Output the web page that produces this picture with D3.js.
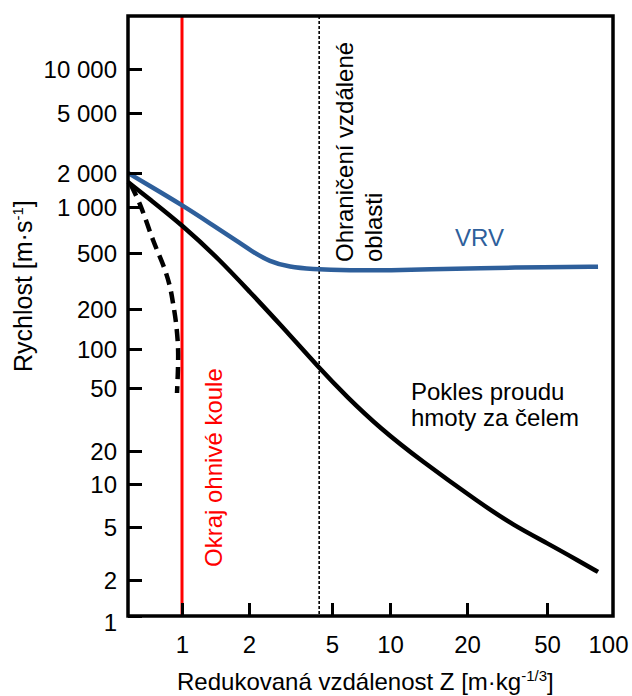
<!DOCTYPE html>
<html>
<head>
<meta charset="utf-8">
<script src="https://cdn.jsdelivr.net/npm/d3@7"></script>
<style>
  html, body { margin: 0; padding: 0; background: #fff; }
  svg { display: block; }
  text { font-family: "Liberation Sans", Arial, sans-serif; }
</style>
</head>
<body>
<svg id="chart" width="632" height="696"></svg>
<script>
// Axis ticks (reduced distance Z and velocity)
const zTicks = [1, 2, 5, 10, 20, 50, 100];
const vTicks = [1, 2, 5, 10, 20, 50, 100, 200, 500, 1000, 2000, 5000, 10000];

// Blast-front velocity (VRV)
const vrvZ = [0.572, 0.718, 1.0, 1.336, 1.822, 2.02, 2.52, 3.15, 3.92, 6.2, 10, 14.3, 22.4, 50, 89.3];
const vrvV = [2000, 1535, 1041, 782, 581, 523, 432, 397, 385, 376, 377, 382, 391, 396, 399];

// Decay of the mass flow behind the front
const flowZ = [0.572, 0.718, 1.0, 1.481, 2.02, 2.816, 4.335, 5.98, 8.87, 13.1, 23.2, 33.9, 50, 72.7, 89.3];
const flowV = [1664, 1165, 763, 446, 264, 154, 71.3, 43.9, 27.9, 16.6, 7.36, 5.16, 3.79, 2.75, 2.3];

// Dashed branch near the fireball
const fireZ = [0.59, 0.648, 0.741, 0.839, 0.883, 0.911, 0.94, 0.9595, 0.9595, 0.9496];
const fireV = [1568, 1050, 608, 378, 287, 221, 157, 103.5, 72.6, 46.5];

// Vertical markers: fireball edge and far-field boundary
const fireballEdgeZ = 1;
const farFieldZ = 4.34;

const blue = "#2e5f9b";
const red = "#ff0000";

const svg = d3.select("#chart");
const plotLeft = 128, plotRight = 613, plotTop = 16, plotBottom = 616;

// Piecewise logarithmic scales (schematic spacing of the decades)
const x = d3.scaleLog()
  .domain(zTicks)
  .range([182, 249, 332, 390, 467, 547, 608]);
const y = d3.scaleLog()
  .domain(vTicks)
  .range([616, 580, 527, 484, 451, 388, 349, 309, 253, 207, 173, 113, 69]);

const g = svg.append("g");

// Fireball edge (red) and far-field boundary (dotted)
g.append("line")
  .attr("x1", x(fireballEdgeZ)).attr("x2", x(fireballEdgeZ))
  .attr("y1", plotTop).attr("y2", plotBottom)
  .attr("stroke", red).attr("stroke-width", 3);
g.append("line")
  .attr("x1", x(farFieldZ)).attr("x2", x(farFieldZ))
  .attr("y1", plotTop).attr("y2", plotBottom)
  .attr("stroke", "#000").attr("stroke-width", 1.6)
  .attr("stroke-dasharray", "3,2");

// Smooth curves for the two solid series, a tighter spline for the dashed one
const smooth = d3.line()
  .x(d => x(d[0]))
  .y(d => y(d[1]))
  .curve(d3.curveBasis);
const tight = d3.line()
  .x(d => x(d[0]))
  .y(d => y(d[1]))
  .curve(d3.curveCatmullRom.alpha(0.5));

g.append("path")
  .datum(d3.zip(vrvZ, vrvV))
  .attr("d", smooth)
  .attr("fill", "none").attr("stroke", blue).attr("stroke-width", 4.5);

g.append("path")
  .datum(d3.zip(flowZ, flowV))
  .attr("d", smooth)
  .attr("fill", "none").attr("stroke", "#000").attr("stroke-width", 4.5);

g.append("path")
  .datum(d3.zip(fireZ, fireV))
  .attr("d", tight)
  .attr("fill", "none").attr("stroke", "#000").attr("stroke-width", 4.5)
  .attr("stroke-dasharray", "12,7");

// Axes with inward ticks
const yAxis = svg.append("g")
  .attr("transform", `translate(${plotLeft},0)`)
  .call(d3.axisLeft(y).tickValues(vTicks).tickSize(-14).tickPadding(11)
    .tickFormat(v => d3.format(",")(v).replace(/,/g, " ")));
yAxis.select(".domain").remove();
yAxis.selectAll(".tick line").attr("stroke", "#000").attr("stroke-width", 3);
yAxis.selectAll(".tick text")
  .attr("fill", "#000")
  .style("font-size", "24px")
  .attr("dy", d => d === 1 ? "0.6em" : "0.34em");

const xAxis = svg.append("g")
  .attr("transform", `translate(0,${plotBottom})`)
  .call(d3.axisBottom(x).tickValues(zTicks).tickSize(-13).tickPadding(20)
    .tickFormat(d3.format("d")));
xAxis.select(".domain").remove();
xAxis.selectAll(".tick line")
  .attr("stroke", "#000").attr("stroke-width", 3)
  .attr("display", d => d === 100 ? "none" : null);
xAxis.selectAll(".tick text")
  .attr("fill", "#000")
  .style("font-size", "24px");

// Plot frame
svg.append("rect")
  .attr("x", plotLeft).attr("y", plotTop)
  .attr("width", plotRight - plotLeft).attr("height", plotBottom - plotTop)
  .attr("fill", "none").attr("stroke", "#000").attr("stroke-width", 3.5);

// Axis titles
const xt = svg.append("text")
  .attr("x", 177).attr("y", 690)
  .style("font-size", "24px").attr("fill", "#000");
xt.append("tspan").text("Redukovaná vzdálenost Z [m·kg");
xt.append("tspan").attr("dy", -9).style("font-size", "15px").text("-1/3");
xt.append("tspan").attr("dy", 9).text("]");

const yt = svg.append("text")
  .attr("transform", "translate(32,372) rotate(-90)")
  .style("font-size", "25px").attr("fill", "#000");
yt.append("tspan").text("Rychlost [m·s");
yt.append("tspan").attr("dy", -9).style("font-size", "15px").text("-1");
yt.append("tspan").attr("dy", 9).text("]");

// Annotations
svg.append("text")
  .attr("transform", `translate(${x(fireballEdgeZ) + 40},567) rotate(-90)`)
  .style("font-size", "24px").attr("fill", red)
  .text("Okraj ohnivé koule");

const far = svg.append("text")
  .attr("transform", `translate(${x(farFieldZ) + 34},262) rotate(-90)`)
  .style("font-size", "24px").attr("fill", "#000");
far.append("tspan").attr("x", 0).attr("y", 0).text("Ohraničení vzdálené");
far.append("tspan").attr("x", 0).attr("y", 28.5).text("oblasti");

svg.append("text")
  .attr("x", 455).attr("y", 246)
  .style("font-size", "24px").attr("fill", blue)
  .text("VRV");

const pk = svg.append("text")
  .style("font-size", "24px").attr("fill", "#000");
pk.append("tspan").attr("x", 411).attr("y", 400).text("Pokles proudu");
pk.append("tspan").attr("x", 411).attr("y", 426).text("hmoty za čelem");
</script>
</body>
</html>
